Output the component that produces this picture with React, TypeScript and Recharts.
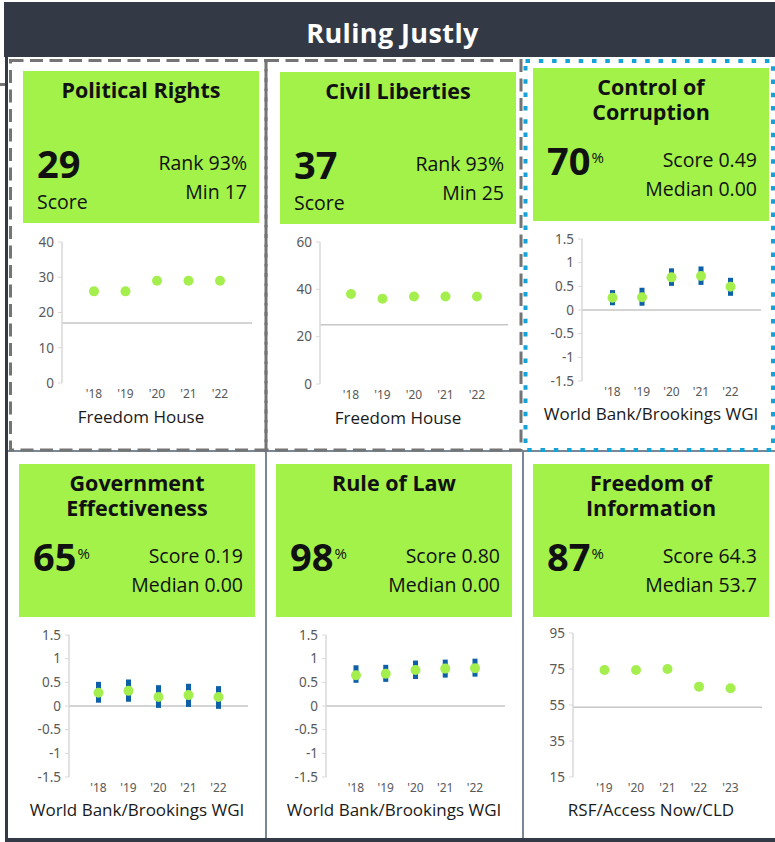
import { ComposedChart, Line, XAxis, YAxis, ReferenceLine, ErrorBar } from "recharts";

const GREEN = "#a2f24a";
const DOT_GREEN = "#a4ef4e";
const BLUE = "#0d5fa8";
const DARK = "#333a46";
const SLATE = "#7a8796";
const DASH_GRAY = "#747474";
const DOT_CYAN = "#15a2d6";
const TICK = "#595959";
const AXIS = "#d9d9d9";
const REF = "#c6c6c6";
const FONT = "'Open Sans', sans-serif";
const TICK_FONT = "'Noto Sans', sans-serif";

// Freedom House (political rights / civil liberties)
const FH_YEARS = ["'18", "'19", "'20", "'21", "'22"];
const PR_SCORES = [26, 26, 29, 29, 29];
const PR_TICKS = [0, 10, 20, 30, 40];
const PR_MIN = 17;
const CL_SCORES = [38, 36, 37, 37, 37];
const CL_TICKS = [0, 20, 40, 60];
const CL_MIN = 25;

// World Bank / Brookings WGI: estimate plus low/high band
const WGI_YEARS = ["'18", "'19", "'20", "'21", "'22"];
const WGI_TICKS = [-1.5, -1, -0.5, 0, 0.5, 1, 1.5];
const WGI_MEDIAN = 0;
const CC_SCORES = [0.26, 0.27, 0.69, 0.72, 0.49];
const CC_LOW = [0.1, 0.09, 0.51, 0.53, 0.3];
const CC_HIGH = [0.42, 0.47, 0.88, 0.92, 0.68];
const GE_SCORES = [0.28, 0.32, 0.19, 0.23, 0.19];
const GE_LOW = [0.07, 0.09, -0.04, -0.02, -0.06];
const GE_HIGH = [0.51, 0.56, 0.44, 0.47, 0.42];
const RL_SCORES = [0.65, 0.68, 0.76, 0.79, 0.8];
const RL_LOW = [0.49, 0.51, 0.57, 0.6, 0.62];
const RL_HIGH = [0.86, 0.87, 0.96, 0.98, 1.0];

// RSF / Access Now / CLD
const FOI_YEARS = ["'19", "'20", "'21", "'22", "'23"];
const FOI_SCORES = [74.4, 74.4, 75.0, 65.2, 64.3];
const FOI_TICKS = [15, 35, 55, 75, 95];
const FOI_MEDIAN = 53.7;

function rows(years: string[], vals: number[], lows?: number[], highs?: number[]) {
  return years.map((year, i) => ({
    year,
    v: vals[i],
    err: lows && highs ? [vals[i] - lows[i], highs[i] - vals[i]] : undefined,
  }));
}

type ChartProps = {
  plot: [number, number, number, number];
  data: ReturnType<typeof rows>;
  ticks: number[];
  refY: number;
  pad: number;
  withErr?: boolean;
};

function MiniChart({ plot, data, ticks, refY, pad, withErr }: ChartProps) {
  const [px, py, pw, ph] = plot;
  return (
    <div style={{ position: "absolute", left: px - 45, top: py - 8 }}>
      <ComposedChart
        width={pw + 50}
        height={ph + 30}
        data={data}
        margin={{ top: 8, right: 5, left: 5, bottom: 0 }}
      >
        <XAxis
          dataKey="year"
          axisLine={false}
          tickLine={false}
          tickSize={0}
          tickMargin={6}
          interval={0}
          height={22}
          padding={{ left: pad, right: pad }}
          tick={{ fontSize: 12, fill: TICK, fontFamily: TICK_FONT }}
        />
        <YAxis
          type="number"
          domain={[ticks[0], ticks[ticks.length - 1]]}
          ticks={ticks}
          interval={0}
          width={40}
          axisLine={{ stroke: AXIS, strokeWidth: 1.5 }}
          tickLine={{ stroke: AXIS }}
          tickSize={4}
          tickMargin={4}
          tick={{ fontSize: 13.5, fill: TICK, fontFamily: TICK_FONT }}
        />
        <ReferenceLine y={refY} stroke={REF} strokeWidth={1.5} />
        <Line
          dataKey="v"
          stroke="none"
          dot={{ r: 5, fill: DOT_GREEN, stroke: "none", strokeWidth: 0 }}
          activeDot={false}
          legendType="none"
          isAnimationActive={false}
        >
          {withErr && (
            <ErrorBar dataKey="err" direction="y" width={0} strokeWidth={5} stroke={BLUE} />
          )}
        </Line>
      </ComposedChart>
    </div>
  );
}

type BoxProps = {
  x: number;
  y: number;
  h: number;
  title: string;
  big: string;
  pct?: boolean;
  caption?: string;
  right: string[];
};

function StatBox({ x, y, h, title, big, pct, caption, right }: BoxProps) {
  const abs = { position: "absolute" as const };
  return (
    <div style={{ ...abs, left: x, top: y, width: 236, height: h, background: GREEN, color: "#111", fontFamily: FONT }}>
      <div style={{ ...abs, left: 0, right: 0, top: 6, lineHeight: "25px", textAlign: "center", fontWeight: 700, fontSize: 21.5, whiteSpace: "pre-line" }}>
        {title}
      </div>
      <div style={{ ...abs, left: 14, top: 74, fontSize: 38, fontWeight: 700, lineHeight: "36px", whiteSpace: "nowrap" }}>
        {big}
        {pct && (
          <span style={{ fontSize: 15, fontWeight: 400, verticalAlign: "top", lineHeight: "14px", position: "relative", top: 8, marginLeft: 1 }}>%</span>
        )}
      </div>
      {caption && (
        <div style={{ ...abs, left: 14, top: 119, fontSize: 19.5, lineHeight: "24px" }}>{caption}</div>
      )}
      {right.map((t, i) => (
        <div key={t} style={{ ...abs, right: 12, top: 80 + i * 29, fontSize: 19.5, lineHeight: "24px", whiteSpace: "nowrap" }}>
          {t}
        </div>
      ))}
    </div>
  );
}

function Source({ cx, cy, text }: { cx: number; cy: number; text: string }) {
  return (
    <div style={{ position: "absolute", left: cx - 130, width: 260, top: cy - 11, height: 22, lineHeight: "22px", textAlign: "center", fontSize: 17, color: "#1a1a1a", fontFamily: FONT, whiteSpace: "nowrap" }}>
      {text}
    </div>
  );
}

export default function App() {
  return (
    <div style={{ position: "absolute", left: 0, top: 0, width: 775, height: 842, background: "#fff", overflow: "hidden", fontFamily: FONT }}>
      {/* frame */}
      <div style={{ position: "absolute", left: 4, top: 2, width: 771, height: 55, background: DARK }} />
      <div style={{ position: "absolute", left: 5, top: 2, width: 3, height: 840, background: DARK }} />
      <div style={{ position: "absolute", left: 5, top: 838, width: 770, height: 4, background: DARK }} />
      <div style={{ position: "absolute", left: 0, top: 83, width: 5, height: 3, background: DASH_GRAY }} />
      <div style={{ position: "absolute", left: 10, right: 0, top: 14, height: 38, lineHeight: "38px", textAlign: "center", color: "#fff", fontWeight: 700, fontSize: 27, letterSpacing: 0.4 }}>
        Ruling Justly
      </div>
      <div style={{ position: "absolute", left: 8, top: 450, width: 767, height: 2, background: SLATE }} />
      <div style={{ position: "absolute", left: 265, top: 451, width: 2, height: 387, background: SLATE }} />
      <div style={{ position: "absolute", left: 522, top: 451, width: 2, height: 387, background: SLATE }} />
      <svg width={775} height={842} style={{ position: "absolute", left: 0, top: 0, pointerEvents: "none" }}>
        <rect x={10.5} y={60.5} width={255.5} height={389.5} fill="none" stroke={DASH_GRAY} strokeWidth={3} strokeDasharray="13 6.5" />
        <rect x={266} y={60.5} width={255} height={389.5} fill="none" stroke={DASH_GRAY} strokeWidth={3} strokeDasharray="13 6.5" />
        <rect x={525.5} y={61} width={247.5} height={389} fill="none" stroke={DOT_CYAN} strokeWidth={4} strokeDasharray="4.5 8.8" />
      </svg>

      {/* row 1 */}
      <StatBox x={23} y={71} h={152} title="Political Rights" big="29" caption="Score" right={["Rank 93%", "Min 17"]} />
      <MiniChart plot={[62, 242, 190, 141]} data={rows(FH_YEARS, PR_SCORES)} ticks={PR_TICKS} refY={PR_MIN} pad={32} />
      <Source cx={141} cy={417} text="Freedom House" />

      <StatBox x={280} y={72} h={152} title="Civil Liberties" big="37" caption="Score" right={["Rank 93%", "Min 25"]} />
      <MiniChart plot={[320, 242, 188, 142]} data={rows(FH_YEARS, CL_SCORES)} ticks={CL_TICKS} refY={CL_MIN} pad={31} />
      <Source cx={398} cy={418} text="Freedom House" />

      <StatBox x={533} y={68} h={153} title={"Control of\nCorruption"} big="70" pct right={["Score 0.49", "Median 0.00"]} />
      <MiniChart plot={[582, 239, 179, 142]} data={rows(WGI_YEARS, CC_SCORES, CC_LOW, CC_HIGH)} ticks={WGI_TICKS} refY={WGI_MEDIAN} pad={30.5} withErr />
      <Source cx={651} cy={414} text="World Bank/Brookings WGI" />

      {/* row 2 */}
      <StatBox x={19} y={464} h={153} title={"Government\nEffectiveness"} big="65" pct right={["Score 0.19", "Median 0.00"]} />
      <MiniChart plot={[69, 635, 179, 142]} data={rows(WGI_YEARS, GE_SCORES, GE_LOW, GE_HIGH)} ticks={WGI_TICKS} refY={WGI_MEDIAN} pad={29.5} withErr />
      <Source cx={137} cy={810} text="World Bank/Brookings WGI" />

      <StatBox x={276} y={464} h={153} title="Rule of Law" big="98" pct right={["Score 0.80", "Median 0.00"]} />
      <MiniChart plot={[326, 635, 179, 142]} data={rows(WGI_YEARS, RL_SCORES, RL_LOW, RL_HIGH)} ticks={WGI_TICKS} refY={WGI_MEDIAN} pad={30} withErr />
      <Source cx={394} cy={810} text="World Bank/Brookings WGI" />

      <StatBox x={533} y={464} h={153} title={"Freedom of\nInformation"} big="87" pct right={["Score 64.3", "Median 53.7"]} />
      <MiniChart plot={[573, 633, 189, 144]} data={rows(FOI_YEARS, FOI_SCORES)} ticks={FOI_TICKS} refY={FOI_MEDIAN} pad={31.5} />
      <Source cx={651} cy={810} text="RSF/Access Now/CLD" />
    </div>
  );
}
